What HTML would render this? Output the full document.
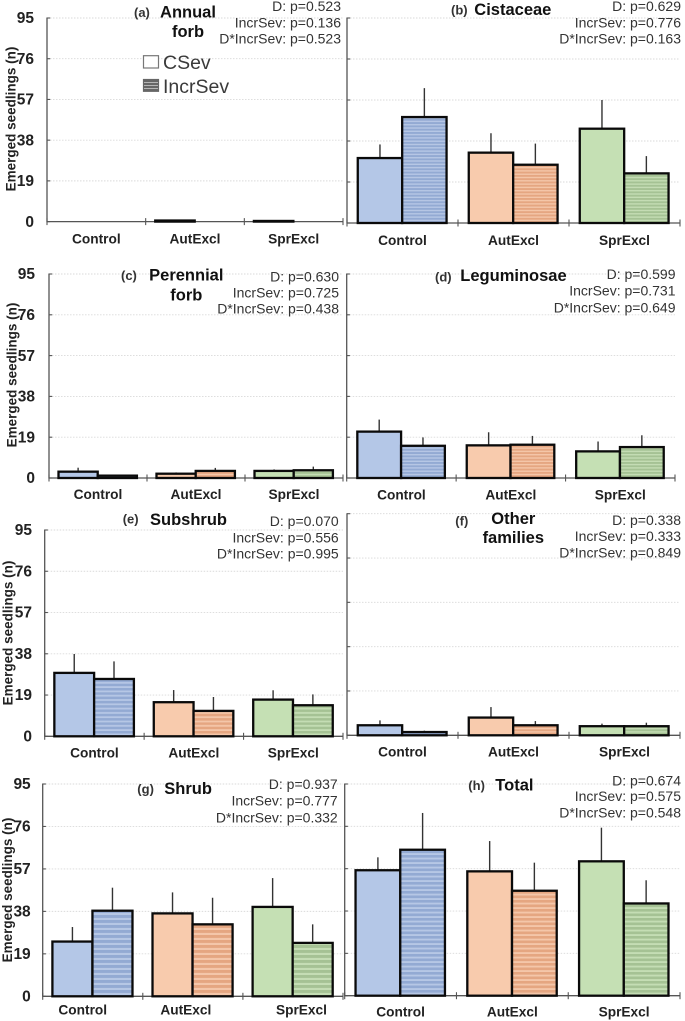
<!DOCTYPE html>
<html lang="en">
<head>
<meta charset="utf-8">
<title>Emerged seedlings by functional group</title>
<style>
html,body{margin:0;padding:0;background:#fff;}
svg{display:block;font-family:"Liberation Sans",sans-serif;}
.pv{font-size:14px;fill:#333;text-anchor:end;}
.tt{font-size:16.5px;font-weight:bold;fill:#111;}
.pl{font-size:13px;font-weight:bold;fill:#333;}
.lg{font-size:19.5px;fill:#3a3a3a;}
.cat{font-size:13.7px;font-weight:bold;fill:#222;text-anchor:middle;}
.yt{font-size:15.5px;font-weight:bold;fill:#222;text-anchor:end;}
.yl{font-size:13.5px;font-weight:bold;fill:#222;text-anchor:middle;}
</style>
</head>
<body>
<svg id="figure" width="685" height="1021" viewBox="0 0 685 1021" xmlns="http://www.w3.org/2000/svg">
  <defs id="defs"></defs>
  <g id="plots"></g>

  <g>
    <text class="pl" x="134" y="17">(a)</text>
    <text class="tt" x="188" y="17.5" text-anchor="middle">Annual</text>
    <text class="tt" x="188" y="37" text-anchor="middle">forb</text>
    <text class="pv" x="341" y="11">D: p=0.523</text>
    <text class="pv" x="341" y="27.7">IncrSev: p=0.136</text>
    <text class="pv" x="341" y="43.7">D*IncrSev: p=0.523</text>
  </g>
  <g>
    <rect x="143.5" y="55.7" width="15" height="12.3" fill="#fff" stroke="#777" stroke-width="1.2"/>
    <text class="lg" x="163" y="69">CSev</text>
    <rect x="143.5" y="79.5" width="15" height="11.8" fill="#666" stroke="#666" stroke-width="1.2"/>
    <path d="M144 82.5H158M144 85.5H158M144 88.5H158" stroke="#b5b5b5" stroke-width="1.1" fill="none"/>
    <text class="lg" x="163" y="93">IncrSev</text>
  </g>

  <g>
    <text class="pl" x="451" y="14.5">(b)</text>
    <text class="tt" x="474.3" y="15">Cistaceae</text>
    <text class="pv" x="681" y="11">D: p=0.629</text>
    <text class="pv" x="681" y="27.7">IncrSev: p=0.776</text>
    <text class="pv" x="681" y="43.7">D*IncrSev: p=0.163</text>
  </g>

  <g>
    <text class="pl" x="121" y="280">(c)</text>
    <text class="tt" x="186.3" y="280.7" text-anchor="middle">Perennial</text>
    <text class="tt" x="186.3" y="300.7" text-anchor="middle">forb</text>
    <text class="pv" x="339" y="281.7">D: p=0.630</text>
    <text class="pv" x="339" y="297.7">IncrSev: p=0.725</text>
    <text class="pv" x="339" y="313.7">D*IncrSev: p=0.438</text>
  </g>

  <g>
    <text class="pl" x="435" y="281.7">(d)</text>
    <text class="tt" x="460.3" y="281">Leguminosae</text>
    <text class="pv" x="675.5" y="279">D: p=0.599</text>
    <text class="pv" x="675.5" y="295.7">IncrSev: p=0.731</text>
    <text class="pv" x="675.5" y="312.3">D*IncrSev: p=0.649</text>
  </g>

  <g>
    <text class="pl" x="122.7" y="523.3">(e)</text>
    <text class="tt" x="150" y="525">Subshrub</text>
    <text class="pv" x="338.7" y="526">D: p=0.070</text>
    <text class="pv" x="338.7" y="542.3">IncrSev: p=0.556</text>
    <text class="pv" x="338.7" y="558.3">D*IncrSev: p=0.995</text>
  </g>

  <g>
    <text class="pl" x="455.3" y="525.3">(f)</text>
    <text class="tt" x="513.3" y="524" text-anchor="middle">Other</text>
    <text class="tt" x="513.3" y="543" text-anchor="middle">families</text>
    <text class="pv" x="681" y="525">D: p=0.338</text>
    <text class="pv" x="681" y="541">IncrSev: p=0.333</text>
    <text class="pv" x="681" y="557.3">D*IncrSev: p=0.849</text>
  </g>

  <g>
    <text class="pl" x="137.3" y="793.3">(g)</text>
    <text class="tt" x="164.3" y="794">Shrub</text>
    <text class="pv" x="337.7" y="789">D: p=0.937</text>
    <text class="pv" x="337.7" y="805.7">IncrSev: p=0.777</text>
    <text class="pv" x="337.7" y="822.3">D*IncrSev: p=0.332</text>
  </g>

  <g>
    <text class="pl" x="468.3" y="790">(h)</text>
    <text class="tt" x="495.3" y="790.7">Total</text>
    <text class="pv" x="681" y="785.7">D: p=0.674</text>
    <text class="pv" x="681" y="801">IncrSev: p=0.575</text>
    <text class="pv" x="681" y="817.3">D*IncrSev: p=0.548</text>
  </g>
</svg>

<script>
const categories = ['Control', 'AutExcl', 'SprExcl'];
const yTickLabels = [0, 19, 38, 57, 76, 95];
const yAxisTitle = 'Emerged seedlings (n)';

const annualForbCSev = [0, 0.5, 0.3];
const annualForbCSevErr = [0, 0.3, 0.1];
const annualForbIncrSev = [0, 0, 0];
const annualForbIncrSevErr = [0, 0, 0];

const cistaceaeCSev = [30.1, 32.6, 43.7];
const cistaceaeCSevErr = [6.3, 9, 13.3];
const cistaceaeIncrSev = [49.1, 27, 23];
const cistaceaeIncrSevErr = [13.4, 9.8, 8];

const perennialForbCSev = [2.95, 2, 3.3];
const perennialForbCSevErr = [1.85, 0.6, 0.7];
const perennialForbIncrSev = [1.1, 3.3, 3.6];
const perennialForbIncrSevErr = [0.4, 1.4, 1.7];

const leguminosaeCSev = [21.6, 15.2, 12.4];
const leguminosaeCSevErr = [5.6, 6.1, 4.6];
const leguminosaeIncrSev = [15, 15.5, 14.4];
const leguminosaeIncrSevErr = [3.9, 4.1, 5.5];

const subshrubCSev = [29.2, 15.7, 16.9];
const subshrubCSevErr = [8.7, 5.6, 4.3];
const subshrubIncrSev = [26.4, 11.7, 14.3];
const subshrubIncrSevErr = [8.1, 6.4, 5];

const otherFamiliesCSev = [4.3, 7.6, 3.9];
const otherFamiliesCSevErr = [2.1, 4.5, 1.1];
const otherFamiliesIncrSev = [1.4, 4.3, 3.9];
const otherFamiliesIncrSevErr = [0.6, 1.8, 1.5];

const shrubCSev = [24.5, 37.1, 40];
const shrubCSevErr = [6.5, 9.4, 12.9];
const shrubIncrSev = [38.3, 32.2, 23.9];
const shrubIncrSevErr = [10.3, 11.9, 8.3];

const totalCSev = [56.3, 55.8, 60.3];
const totalCSevErr = [5.8, 13.6, 15.1];
const totalIncrSev = [65.5, 47.1, 41.4];
const totalIncrSevErr = [16.5, 12.6, 10.4];

const panels = [
  {id: 'a', cs: annualForbCSev, ce: annualForbCSevErr, is: annualForbIncrSev, ie: annualForbIncrSevErr},
  {id: 'b', cs: cistaceaeCSev, ce: cistaceaeCSevErr, is: cistaceaeIncrSev, ie: cistaceaeIncrSevErr},
  {id: 'c', cs: perennialForbCSev, ce: perennialForbCSevErr, is: perennialForbIncrSev, ie: perennialForbIncrSevErr},
  {id: 'd', cs: leguminosaeCSev, ce: leguminosaeCSevErr, is: leguminosaeIncrSev, ie: leguminosaeIncrSevErr},
  {id: 'e', cs: subshrubCSev, ce: subshrubCSevErr, is: subshrubIncrSev, ie: subshrubIncrSevErr},
  {id: 'f', cs: otherFamiliesCSev, ce: otherFamiliesCSevErr, is: otherFamiliesIncrSev, ie: otherFamiliesIncrSevErr},
  {id: 'g', cs: shrubCSev, ce: shrubCSevErr, is: shrubIncrSev, ie: shrubIncrSevErr},
  {id: 'h', cs: totalCSev, ce: totalCSevErr, is: totalIncrSev, ie: totalIncrSevErr}
];

/* Frame geometry for each panel (pixels); separate from the data above. */
const frames = {
  a: {l: 47, r: 343, y0: 221.6, yMax: 18, catY: 243.5, stripe: 3.3, tickRight: 34, titleX: 15.5, titleY: 119, dx: [0, 0, 0]},
  b: {l: 347, r: 680, y0: 223, yMax: 18, catY: 245, stripe: 3.3, dx: [0, 0, 0]},
  c: {l: 49, r: 343, y0: 478, yMax: 274, catY: 499, stripe: 3.3, tickRight: 35, titleX: 16.5, titleY: 375, dx: [0, 0, 0]},
  d: {l: 346.7, r: 675, y0: 478, yMax: 274, catY: 499.3, stripe: 3.3, dx: [0, 0, 0]},
  e: {l: 44.7, r: 343, y0: 736.3, yMax: 530, catY: 757.3, stripe: 4.3, tickRight: 32, titleX: 12.5, titleY: 633, dx: [0, 0, 0]},
  f: {l: 347, r: 680, y0: 735.3, yMax: 513.7, catY: 756.7, stripe: 3.3, dx: [0, 0, 0]},
  g: {l: 42.7, r: 343, y0: 996.3, yMax: 784, catY: 1014.7, stripe: 5, tickRight: 30.7, titleX: 12, titleY: 890, dx: [-10, -7, 8.5]},
  h: {l: 344.7, r: 680, y0: 995.7, yMax: 784, catY: 1016.7, stripe: 4.5, dx: [0, 0, 0]}
};

const NS = 'http://www.w3.org/2000/svg';
const plots = document.getElementById('plots');
const defs = document.getElementById('defs');
const yDomainMax = yTickLabels[yTickLabels.length - 1];

const solidFill = ['#b4c7e7', '#f8cbad', '#c5e0b4'];
const stripeLight = ['#b6c7e5', '#f4c6a9', '#c4ddb4'];
const stripeDark = ['#93aad3', '#e5a681', '#a5c294'];

function make(tag, attrs, parent) {
  const node = document.createElementNS(NS, tag);
  for (const key in attrs) node.setAttribute(key, attrs[key]);
  if (parent) parent.appendChild(node);
  return node;
}

function stripePattern(panelId, catIndex, period) {
  const pid = 'stripe-' + panelId + '-' + catIndex;
  const pat = make('pattern', {id: pid, patternUnits: 'userSpaceOnUse', width: 8, height: period}, defs);
  make('rect', {x: 0, y: 0, width: 8, height: period, fill: stripeLight[catIndex]}, pat);
  make('rect', {x: 0, y: 0, width: 8, height: period * 0.58, fill: stripeDark[catIndex]}, pat);
  return 'url(#' + pid + ')';
}

function drawPanel(panel) {
  const f = frames[panel.id];
  const g = make('g', {}, plots);
  
  

  const yScale = function (v) { return f.y0 - (v / yDomainMax) * (f.y0 - f.yMax); };
  const catWidth = (f.r - f.l) / categories.length;
  const catLeft = function (i) { return f.l + catWidth * i; };
  const barWidth = catWidth * 0.4;
  const barPad = catWidth * 0.097;

  yTickLabels.forEach(function (tick) {
    const y = yScale(tick);
    if (tick > 0) {
      const grid = make('line', {x1: f.l, x2: f.r, y1: y, y2: y, stroke: '#d9d9d9', 'stroke-width': 0.9, 'stroke-dasharray': '1.5 1.5'}, g);
      
      
    }
    const tickMark = make('line', {x1: f.l, x2: f.l + 3.2, y1: y, y2: y, stroke: '#555', 'stroke-width': 1.1}, g);
    
    
    if (f.tickRight) {
      const label = make('text', {class: 'yt', x: f.tickRight, y: y + 5.2}, g);
      label.textContent = tick;
      
      
    }
  });

  const axisY = make('line', {x1: f.l, x2: f.l, y1: f.yMax - 0.5, y2: f.y0 + 0.5, stroke: '#555', 'stroke-width': 1.3}, g);
  
  

  const axisX = make('line', {x1: f.l, x2: f.r, y1: f.y0, y2: f.y0, stroke: '#555', 'stroke-width': 1.3}, g);
  
  

  for (let t = 0; t <= categories.length; t++) {
    const xt = catLeft(t);
    const tk = make('line', {x1: xt, x2: xt, y1: f.y0 - 3.5, y2: f.y0 + 3.5, stroke: '#555', 'stroke-width': 1.1}, g);
    
    
  }

  if (f.tickRight) {
    const title = make('text', {class: 'yl', x: f.titleX, y: f.titleY, transform: 'rotate(-90 ' + f.titleX + ' ' + f.titleY + ')'}, g);
    title.textContent = yAxisTitle;
    
    
  }

  categories.forEach(function (cat, i) {
    const label = make('text', {class: 'cat', x: catLeft(i) + catWidth / 2 + f.dx[i], y: f.catY}, g);
    label.textContent = cat;
    
    

    const stripeFill = stripePattern(panel.id, i, f.stripe);
    const series = [
      {vals: panel.cs, errs: panel.ce, x: catLeft(i) + barPad, fill: solidFill[i], name: 'csev'},
      {vals: panel.is, errs: panel.ie, x: catLeft(i) + barPad + barWidth, fill: stripeFill, name: 'incrsev'}
    ];
    series.forEach(function (s) {
      const v = s.vals[i];
      const e = s.errs[i];
      if (v <= 0) return;
      const mid = s.x + barWidth / 2;
      const errLine = make('line', {x1: mid, x2: mid, y1: yScale(v), y2: yScale(v + e), stroke: '#333', 'stroke-width': 1.4}, g);
      
      
      const bar = make('rect', {x: s.x, y: yScale(v), width: barWidth, height: f.y0 - yScale(v), fill: s.fill, stroke: '#0a0a0a', 'stroke-width': 2.3}, g);
      
      
    });
  });
}

panels.forEach(drawPanel);
</script>
</body>
</html>
